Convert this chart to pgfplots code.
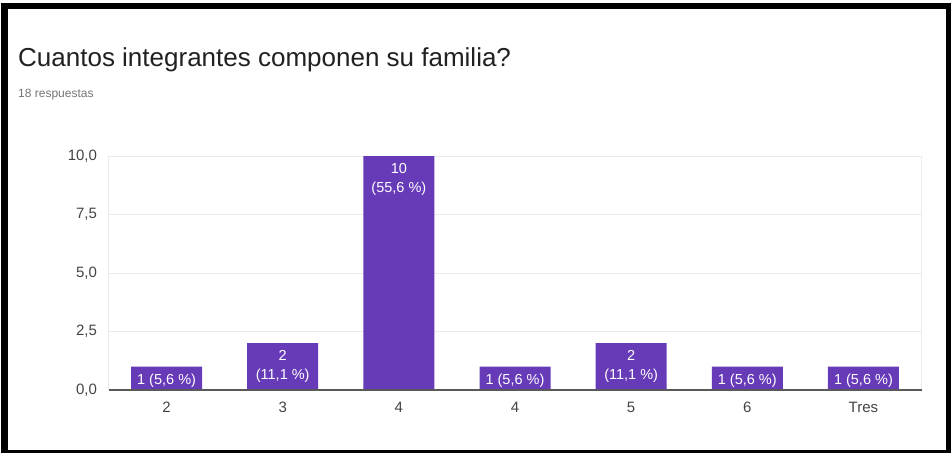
\documentclass[border=0pt]{standalone}
\usepackage{pgfplots}
\pgfplotsset{compat=1.18}
\usepackage{fontspec}
\setmainfont{Liberation Sans}
\definecolor{barpurple}{HTML}{673AB7}
\definecolor{gridgray}{HTML}{EBEBEB}
\definecolor{ticktext}{HTML}{444444}
\definecolor{subgray}{HTML}{757575}
\begin{document}
\begin{tikzpicture}[x=1pt,y=1pt]
  % background and black frame
  \fill[white] (0pt,0pt) rectangle (951pt,-453pt);
  \fill[black] (1pt,-3pt) rectangle (951pt,-453pt);
  \fill[white] (8pt,-9pt) rectangle (946pt,-450pt);
  % title and subtitle
  \node[anchor=base west, inner sep=0pt, font=\fontsize{26}{30}\selectfont, text=black!87]
    at (18pt,-66pt) {Cuantos integrantes componen su familia?};
  \node[anchor=base west, inner sep=0pt, font=\fontsize{12}{14}\selectfont, text=subgray]
    at (18pt,-97pt) {18 respuestas};
  \begin{axis}[
      at={(108.5pt,-390pt)}, anchor=south west,
      scale only axis, width=813pt, height=234pt,
      ybar, bar width=71pt,
      xmin=-0.5, xmax=6.5, ymin=0, ymax=10,
      xtick={0,1,2,3,4,5,6},
      xticklabels={2,3,4,4,5,6,Tres},
      ytick={0,2.5,5,7.5,10},
      yticklabels={{0,0},{2,5},{5,0},{7,5},{10,0}},
      tick style={draw=none},
      ymajorgrids, grid style={gridgray, line width=0.8pt},
      axis line style={gridgray},
      axis x line*=bottom,
      x axis line style={draw=none},
      ticklabel style={font=\fontsize{15}{17}\selectfont, text=ticktext},
      yticklabel style={xshift=-8pt},
      xticklabel style={yshift=-4pt},
      point meta=explicit symbolic,
      nodes near coords,
      nodes near coords align={below},
      every node near coord/.append style={
        text=white, align=center, font=\fontsize{14.5}{19}\selectfont,
        inner sep=0pt, yshift=-7pt},
      clip=false,
    ]
    \addplot[fill=barpurple, draw=none] coordinates {
      (0,1) [1 (5,6 \%)]
      (1,2) [{2\\(11,1 \%)}]
      (2,10) [{10\\(55,6 \%)}]
      (3,1) [1 (5,6 \%)]
      (4,2) [{2\\(11,1 \%)}]
      (5,1) [1 (5,6 \%)]
      (6,1) [1 (5,6 \%)]
    };
    \draw[gridgray, line width=0.8pt] (axis cs:-0.5,0) -- (axis cs:-0.5,10);
    \draw[gridgray, line width=0.8pt] (axis cs:6.5,0) -- (axis cs:6.5,10);
    \draw[black!65, line width=1.2pt] (axis cs:-0.5,0) -- (axis cs:6.5,0);
  \end{axis}
\end{tikzpicture}
\end{document}
